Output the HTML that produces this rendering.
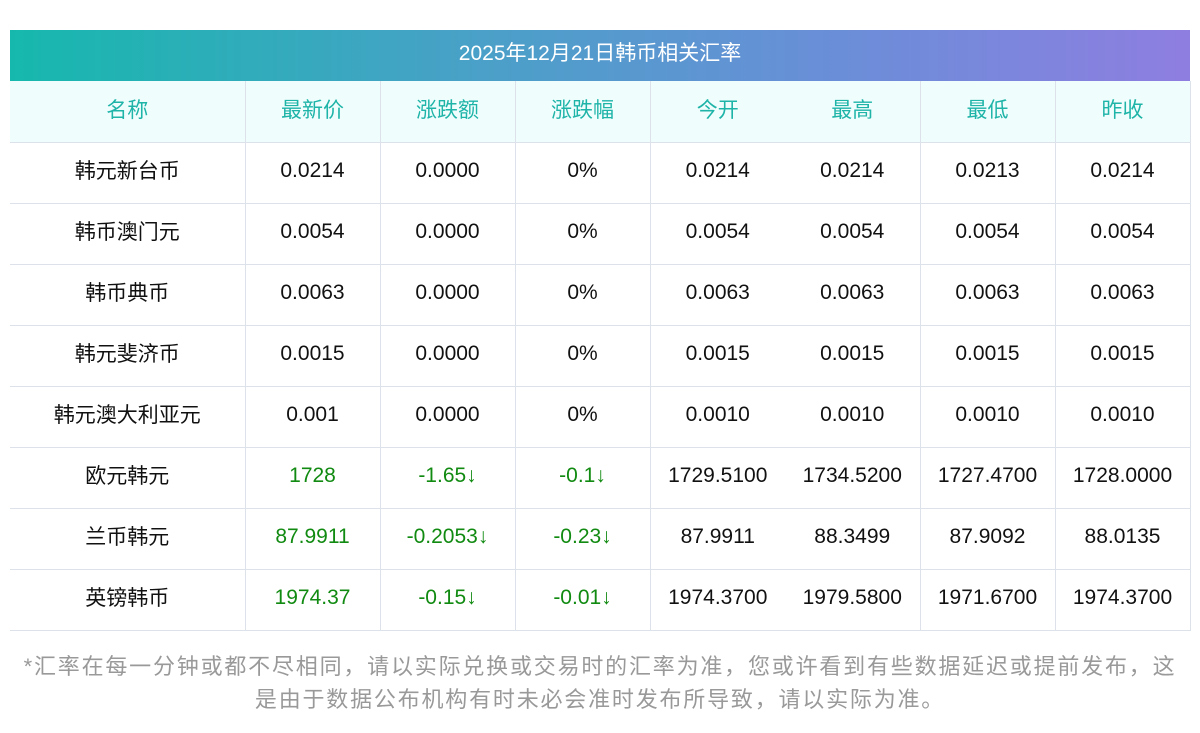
<!DOCTYPE html>
<html><head><meta charset="utf-8"><style>
*{margin:0;padding:0;box-sizing:border-box}
body{width:1200px;height:733px;background:#fff;font-family:"Liberation Sans","Noto Sans CJK SC",sans-serif;position:relative;overflow:hidden}
.title{position:absolute;left:10px;top:30px;width:1180px;height:51px;background:linear-gradient(90deg,#16b8ad,#4aa0c8 40%,#6a8ed8 70%,#8e7ee0);color:#fff;font-size:21px;text-align:center;line-height:48px}
table{position:absolute;left:10px;top:81px;width:1180px;border-collapse:collapse;table-layout:fixed}
td{height:61px;text-align:center;font-size:21px;color:#111;border-bottom:1px solid #dde1ea;border-right:1px solid #dde1ea;line-height:1;padding-bottom:4px}
td span{position:relative;top:1px}
tr.h td{background:#f0fdfd;color:#1eb4a8}
td.nr{border-right:none}
.g{color:#118a11}
.foot{position:absolute;left:0;top:650px;width:1200px;text-align:center;font-size:22px;letter-spacing:1.8px;line-height:33px;color:#999}
</style></head><body>
<div class="title">2025年12月21日韩币相关汇率</div>
<table>
<colgroup><col style="width:235px"><col style="width:135px"><col style="width:135px"><col style="width:135px"><col style="width:135px"><col style="width:135px"><col style="width:135px"><col style="width:135px"></colgroup>
<tr class="h"><td><span>名称</span></td><td><span>最新价</span></td><td><span>涨跌额</span></td><td><span>涨跌幅</span></td><td class="nr"><span>今开</span></td><td><span>最高</span></td><td><span>最低</span></td><td><span>昨收</span></td></tr>
<tr><td><span>韩元新台币</span></td><td>0.0214</td><td>0.0000</td><td>0%</td><td class="nr">0.0214</td><td>0.0214</td><td>0.0213</td><td>0.0214</td></tr>
<tr><td><span>韩币澳门元</span></td><td>0.0054</td><td>0.0000</td><td>0%</td><td class="nr">0.0054</td><td>0.0054</td><td>0.0054</td><td>0.0054</td></tr>
<tr><td><span>韩币典币</span></td><td>0.0063</td><td>0.0000</td><td>0%</td><td class="nr">0.0063</td><td>0.0063</td><td>0.0063</td><td>0.0063</td></tr>
<tr><td><span>韩元斐济币</span></td><td>0.0015</td><td>0.0000</td><td>0%</td><td class="nr">0.0015</td><td>0.0015</td><td>0.0015</td><td>0.0015</td></tr>
<tr><td><span>韩元澳大利亚元</span></td><td>0.001</td><td>0.0000</td><td>0%</td><td class="nr">0.0010</td><td>0.0010</td><td>0.0010</td><td>0.0010</td></tr>
<tr><td><span>欧元韩元</span></td><td class="g">1728</td><td class="g">-1.65↓</td><td class="g">-0.1↓</td><td class="nr">1729.5100</td><td>1734.5200</td><td>1727.4700</td><td>1728.0000</td></tr>
<tr><td><span>兰币韩元</span></td><td class="g">87.9911</td><td class="g">-0.2053↓</td><td class="g">-0.23↓</td><td class="nr">87.9911</td><td>88.3499</td><td>87.9092</td><td>88.0135</td></tr>
<tr><td><span>英镑韩币</span></td><td class="g">1974.37</td><td class="g">-0.15↓</td><td class="g">-0.01↓</td><td class="nr">1974.3700</td><td>1979.5800</td><td>1971.6700</td><td>1974.3700</td></tr>
</table>
<div class="foot">*汇率在每一分钟或都不尽相同，请以实际兑换或交易时的汇率为准，您或许看到有些数据延迟或提前发布，这<br>是由于数据公布机构有时未必会准时发布所导致，请以实际为准。</div>
</body></html>
